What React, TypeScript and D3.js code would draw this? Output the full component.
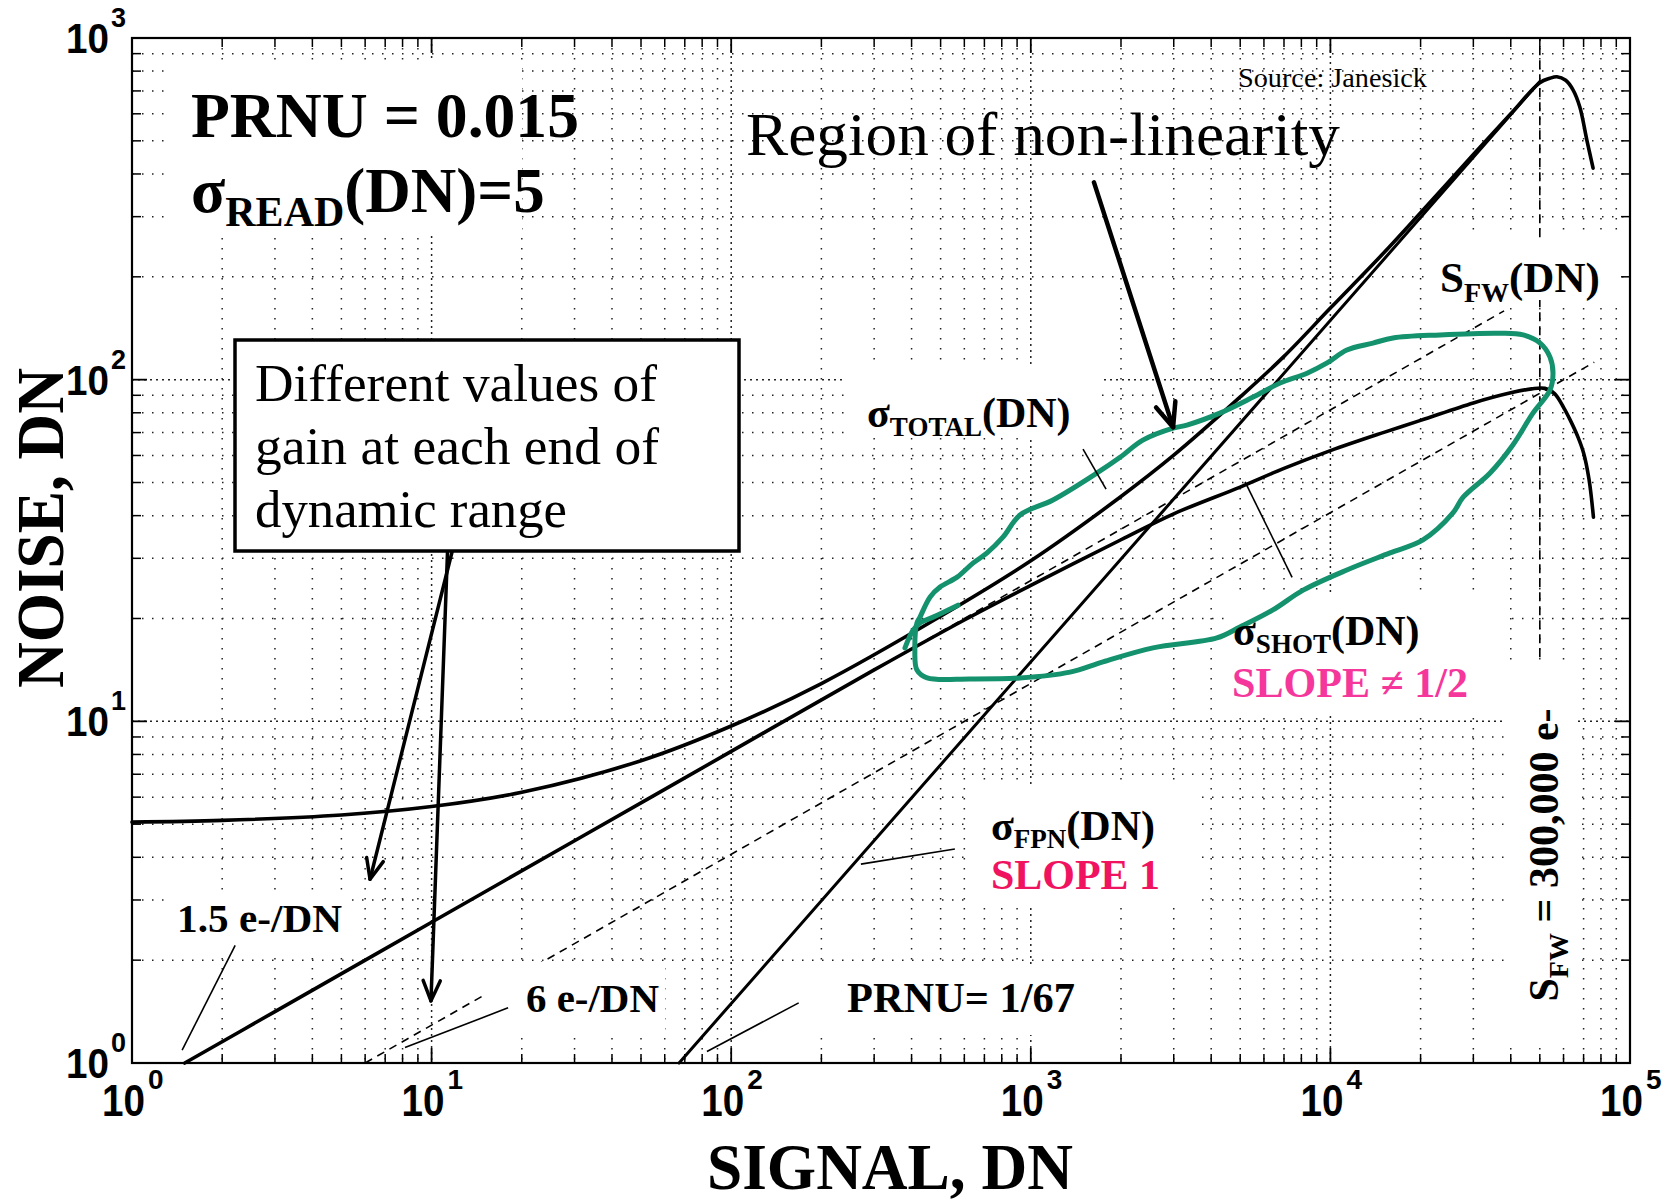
import React from "react";
import * as d3 from "d3";

// ---------- data ----------
const xTickExponents = [0, 1, 2, 3, 4, 5];
const yTickExponents = [0, 1, 2, 3];
const minorSteps = [2, 3, 4, 5, 6, 7, 8, 9];

const totalSignal = [1, 2, 5, 10, 20, 50, 100, 200, 500, 1000, 2000, 3000, 5000, 7000, 10000, 15000, 20000, 30000, 40000, 50000, 54000, 57000, 61000, 64600, 68000, 71800, 75300];
const totalNoise = [5.07, 5.13, 5.32, 5.63, 6.2, 7.67, 9.69, 12.9, 20.3, 29.5, 45.5, 60.1, 89, 117, 162, 234, 308, 456, 600, 740, 762, 770, 752, 704, 628, 502, 416];

const shotSignal = [1.5, 3, 10, 30, 100, 300, 600, 1000, 2000, 3000, 5000, 7000, 10000, 15000, 20000, 30000, 40000, 47000, 52000, 56000, 60000, 63000, 67000, 70000, 73000, 75500];
const shotNoise = [1.0, 1.414, 2.582, 4.472, 8.165, 14.14, 19.8, 25.0, 34.0, 40.5, 48.5, 55.0, 62.0, 70.0, 76.0, 85.5, 91.5, 94.0, 94.3, 91.0, 83.0, 76.5, 68.0, 61.0, 51.0, 39.6];

const fpnSignal = [67, 50000];
const fpnNoise = [1, 746];

const gain15Signal = [3.5, 38000];
const gain15Noise = [1.53, 159];

const gain6Signal = [6, 76000];
const gain6Noise = [1, 112.5];

const fullWellSignal = [50000, 50000];
const fullWellNoise = [15.4, 1000];

// hand-drawn green outline (log10 signal, log10 noise)
const loopLogSignal = [2.62, 2.613, 2.62, 2.654, 2.797, 2.964, 3.131, 3.241, 3.408, 3.621, 3.698, 3.808, 3.909, 4.055, 4.199, 4.309, 4.409, 4.443, 4.533, 4.609, 4.676, 4.733, 4.743, 4.733, 4.7, 4.643, 4.566, 4.366, 4.209, 4.142, 4.055, 3.989, 3.922, 3.832, 3.742, 3.631, 3.521, 3.475, 3.374, 3.298, 3.221, 3.074, 2.964, 2.907, 2.854, 2.807, 2.754, 2.697, 2.664, 2.63];
const loopLogNoise = [1.288, 1.209, 1.15, 1.127, 1.124, 1.127, 1.144, 1.174, 1.215, 1.244, 1.276, 1.326, 1.384, 1.443, 1.493, 1.531, 1.61, 1.656, 1.727, 1.809, 1.902, 1.97, 2.019, 2.066, 2.107, 2.131, 2.136, 2.131, 2.122, 2.107, 2.087, 2.049, 2.019, 1.99, 1.949, 1.902, 1.867, 1.858, 1.823, 1.773, 1.727, 1.648, 1.604, 1.539, 1.493, 1.463, 1.422, 1.393, 1.364, 1.305];
const tailLogSignal = [2.58, 2.607, 2.63, 2.674, 2.757];
const tailLogNoise = [1.215, 1.267, 1.288, 1.305, 1.34];

// leader lines: [signal1, noise1, signal2, noise2]
const leaderSegments = [
  [2.21, 2.21, 1.47, 1.09],
  [18.0, 1.45, 8.15, 1.11],
  [168, 1.5, 83, 1.08],
  [558, 4.23, 271, 3.82],
  [1494, 62.6, 1783, 47.8],
  [5190, 50.2, 7450, 26.4],
];
// arrows: [signalStart, noiseStart, signalTip, noiseTip]
const arrowSegments = [
  [1625, 378, 2985, 72.6],
  [11.7, 31.3, 6.23, 3.45],
  [11.3, 31.3, 9.95, 1.52],
];

const noteLines = ["Different values of", "gain at each end of", "dynamic range"];

// ---------- layout ----------
const W = 1666;
const H = 1203;
const X0 = 132, X1 = 1630, Y0 = 38, Y1 = 1063;
const SERIF = "'Liberation Serif', 'Times New Roman', serif";
const SANS = "'Liberation Sans', Arial, sans-serif";

const labelBoxes = [
  [172, 62, 350, 170],
  [845, 365, 255, 72],
  [1425, 238, 195, 62],
  [1225, 593, 280, 120],
  [1505, 660, 72, 385],
  [972, 785, 222, 120],
  [780, 968, 330, 67],
  [485, 962, 180, 68],
  [170, 897, 175, 58],
];
const noteWidths = [402, 404, 312];

export default function App() {
  const x = d3.scaleLog().domain([1, 1e5]).range([X0, X1]);
  const y = d3.scaleLog().domain([1, 1e3]).range([Y1, Y0]);

  const smooth = d3
    .line<[number, number]>()
    .x((d) => x(d[0]))
    .y((d) => y(d[1]))
    .curve(d3.curveCatmullRom.alpha(0.5));
  const straight = d3
    .line<[number, number]>()
    .x((d) => x(d[0]))
    .y((d) => y(d[1]));
  const loopLine = d3
    .line<[number, number]>()
    .x((d) => x(d[0]))
    .y((d) => y(d[1]))
    .curve(d3.curveCatmullRomClosed.alpha(0.5));

  const zip = (a: number[], b: number[]) => a.map((v, i) => [v, b[i]] as [number, number]);
  const zipLog = (a: number[], b: number[]) =>
    a.map((v, i) => [Math.pow(10, v), Math.pow(10, b[i])] as [number, number]);

  const xMajors = xTickExponents.map((e) => Math.pow(10, e));
  const yMajors = yTickExponents.map((e) => Math.pow(10, e));
  const xMinors: number[] = [];
  xTickExponents.slice(0, -1).forEach((e) => minorSteps.forEach((m) => xMinors.push(m * Math.pow(10, e))));
  const yMinors: number[] = [];
  yTickExponents.slice(0, -1).forEach((e) => minorSteps.forEach((m) => yMinors.push(m * Math.pow(10, e))));

  const innerXMajors = xMajors.slice(1, -1);
  const innerYMajors = yMajors.slice(1, -1);

  const gridColor = "#222";
  const arrowHead = (x1: number, y1: number, x2: number, y2: number, len = 24, ang = 0.42) => {
    const a = Math.atan2(y2 - y1, x2 - x1);
    return `M${x2 - len * Math.cos(a - ang)},${y2 - len * Math.sin(a - ang)} L${x2},${y2} L${x2 - len * Math.cos(a + ang)},${y2 - len * Math.sin(a + ang)}`;
  };

  return (
    <svg
      width={W}
      height={H}
      viewBox={`0 0 ${W} ${H}`}
      style={{ position: "absolute", left: 0, top: 0, background: "#fff" }}
    >
      <rect x={0} y={0} width={W} height={H} fill="#fff" />

      {/* grid */}
      <g stroke={gridColor} strokeWidth={1.5} fill="none">
        {xMinors.map((v) => (
          <line key={"gx" + v} x1={x(v)} x2={x(v)} y1={Y0} y2={Y1} strokeDasharray="1.5,8.5" />
        ))}
        {innerXMajors.map((v) => (
          <line key={"gX" + v} x1={x(v)} x2={x(v)} y1={Y0} y2={Y1} strokeDasharray="2,4" />
        ))}
        {yMinors.map((v) => (
          <line key={"gy" + v} y1={y(v)} y2={y(v)} x1={X0} x2={X1} strokeDasharray="1.5,8.5" />
        ))}
        {innerYMajors.map((v) => (
          <line key={"gY" + v} y1={y(v)} y2={y(v)} x1={X0} x2={X1} strokeDasharray="2,4" />
        ))}
      </g>

      {/* dashed reference lines */}
      <g stroke="#000" strokeWidth={1.6} fill="none" strokeDasharray="8,6">
        <path d={straight(zip(gain15Signal, gain15Noise)) || ""} />
        <path d={straight(zip(gain6Signal, gain6Noise)) || ""} />
        <path d={straight(zip(fullWellSignal, fullWellNoise)) || ""} strokeDasharray="9,5" />
      </g>

      {/* curves */}
      <g stroke="#000" fill="none" strokeLinejoin="round" strokeLinecap="round">
        <path d={straight(zip(fpnSignal, fpnNoise)) || ""} strokeWidth={3} />
        <path d={smooth(zip(shotSignal, shotNoise)) || ""} strokeWidth={3.6} />
        <path d={smooth(zip(totalSignal, totalNoise)) || ""} strokeWidth={3.6} />
      </g>

      {/* label backgrounds */}
      <g fill="#fff">
        {labelBoxes.map((b, i) => (
          <rect key={"lb" + i} x={b[0]} y={b[1]} width={b[2]} height={b[3]} />
        ))}
      </g>

      {/* axes box and ticks */}
      <g stroke="#000" fill="none">
        <rect x={X0} y={Y0} width={X1 - X0} height={Y1 - Y0} strokeWidth={2.2} />
        {innerXMajors.map((v) => (
          <g key={"tX" + v} strokeWidth={1.8}>
            <line x1={x(v)} x2={x(v)} y1={Y1} y2={Y1 - 15} />
            <line x1={x(v)} x2={x(v)} y1={Y0} y2={Y0 + 15} />
          </g>
        ))}
        {xMinors.map((v) => (
          <g key={"tx" + v} strokeWidth={1.5}>
            <line x1={x(v)} x2={x(v)} y1={Y1} y2={Y1 - 9} />
            <line x1={x(v)} x2={x(v)} y1={Y0} y2={Y0 + 9} />
          </g>
        ))}
        {innerYMajors.map((v) => (
          <g key={"tY" + v} strokeWidth={1.8}>
            <line y1={y(v)} y2={y(v)} x1={X0} x2={X0 + 15} />
            <line y1={y(v)} y2={y(v)} x1={X1} x2={X1 - 15} />
          </g>
        ))}
        {yMinors.map((v) => (
          <g key={"ty" + v} strokeWidth={1.5}>
            <line y1={y(v)} y2={y(v)} x1={X0} x2={X0 + 9} />
            <line y1={y(v)} y2={y(v)} x1={X1} x2={X1 - 9} />
          </g>
        ))}
      </g>

      {/* tick labels */}
      <g fontFamily={SANS} fontWeight="bold" fill="#000">
        {xTickExponents.map((e) => {
          const px = x(Math.pow(10, e));
          return (
            <text key={"xl" + e} x={px - 30} y={1116}>
              <tspan fontSize={44} textLength={43} lengthAdjust="spacingAndGlyphs">10</tspan>
              <tspan fontSize={28} dy={-27} dx={3}>{e}</tspan>
            </text>
          );
        })}
        {yTickExponents.map((e) => {
          const py = y(Math.pow(10, e));
          return (
            <text key={"yl" + e} x={66} y={py + 15}>
              <tspan fontSize={42} textLength={43} lengthAdjust="spacingAndGlyphs">10</tspan>
              <tspan fontSize={27} dy={-26} dx={2}>{e}</tspan>
            </text>
          );
        })}
      </g>

      {/* green outline */}
      <g fill="none" stroke="#14916d" strokeWidth={5} strokeLinecap="round" strokeLinejoin="round">
        <path d={loopLine(zipLog(loopLogSignal, loopLogNoise)) || ""} />
        <path d={smooth(zipLog(tailLogSignal, tailLogNoise)) || ""} />
      </g>

      {/* axis titles */}
      <text x={890} y={1189} fontFamily={SERIF} fontWeight="bold" fontSize={66} textAnchor="middle" textLength={366} lengthAdjust="spacingAndGlyphs">SIGNAL, DN</text>
      <text transform="translate(63,528) rotate(-90)" fontFamily={SERIF} fontWeight="bold" fontSize={68} textAnchor="middle" textLength={320} lengthAdjust="spacingAndGlyphs">NOISE, DN</text>

      {/* annotations */}
      <g fontFamily={SERIF} fill="#000">
        <text x={191} y={137} fontSize={64} fontWeight="bold" textLength={388} lengthAdjust="spacingAndGlyphs">PRNU = 0.015</text>
        <text x={191} y={212} fontSize={63} fontWeight="bold">
          <tspan>σ</tspan>
          <tspan fontSize={42} dy={14}>READ</tspan>
          <tspan dy={-14}>(DN)=5</tspan>
        </text>
        <text x={746} y={155} fontSize={61} textLength={594} lengthAdjust="spacingAndGlyphs">Region of non-linearity</text>
        <text x={1238} y={87} fontSize={27} textLength={189} lengthAdjust="spacingAndGlyphs">Source: Janesick</text>

        <text x={867} y={427} fontSize={42} fontWeight="bold">
          <tspan>σ</tspan>
          <tspan fontSize={27} dy={9}>TOTAL</tspan>
          <tspan dy={-9}>(DN)</tspan>
        </text>
        <text x={1233} y={645} fontSize={42} fontWeight="bold">
          <tspan>σ</tspan>
          <tspan fontSize={27} dy={8}>SHOT</tspan>
          <tspan dy={-8}>(DN)</tspan>
        </text>
        <text x={1232} y={697} fontSize={42} fontWeight="bold" fill="#f5379c" textLength={236} lengthAdjust="spacingAndGlyphs">SLOPE ≠ 1/2</text>
        <text x={1440} y={292} fontSize={43} fontWeight="bold">
          <tspan>S</tspan>
          <tspan fontSize={28} dy={10}>FW</tspan>
          <tspan dy={-10}>(DN)</tspan>
        </text>
        <text x={991} y={840} fontSize={42} fontWeight="bold">
          <tspan>σ</tspan>
          <tspan fontSize={27} dy={8}>FPN</tspan>
          <tspan dy={-8}>(DN)</tspan>
        </text>
        <text x={991} y={889} fontSize={42} fontWeight="bold" fill="#f0135f" textLength={169} lengthAdjust="spacingAndGlyphs">SLOPE 1</text>
        <text x={847} y={1012} fontSize={42} fontWeight="bold" textLength={228} lengthAdjust="spacingAndGlyphs">PRNU= 1/67</text>
        <text x={526} y={1012} fontSize={41} fontWeight="bold" textLength={133} lengthAdjust="spacingAndGlyphs">6 e-/DN</text>
        <text x={177} y={932} fontSize={41} fontWeight="bold" textLength={165} lengthAdjust="spacingAndGlyphs">1.5 e-/DN</text>
        <text transform="translate(1558,855) rotate(-90)" fontSize={42} fontWeight="bold" textAnchor="middle">
          <tspan>S</tspan>
          <tspan fontSize={28} dy={10}>FW</tspan>
          <tspan dy={-10}> = 300,000 e-</tspan>
        </text>
      </g>

      {/* leader lines */}
      <g stroke="#000" strokeWidth={1.6}>
        {leaderSegments.map((s, i) => (
          <line key={"ld" + i} x1={x(s[0])} y1={y(s[1])} x2={x(s[2])} y2={y(s[3])} />
        ))}
      </g>

      {/* arrows */}
      <g stroke="#000" fill="none" strokeLinecap="round" strokeLinejoin="round">
        {arrowSegments.map((s, i) => {
          const x1 = x(s[0]), y1 = y(s[1]), x2 = x(s[2]), y2 = y(s[3]);
          const w = i === 0 ? 4.5 : 3.5;
          return (
            <g key={"ar" + i} strokeWidth={w}>
              <line x1={x1} y1={y1} x2={x2} y2={y2} />
              <path d={arrowHead(x1, y1, x2, y2, i === 0 ? 26 : 22, 0.4)} />
            </g>
          );
        })}
      </g>

      {/* note box */}
      <rect x={235} y={340} width={504} height={211} fill="#fff" stroke="#000" strokeWidth={3.5} />
      <g fontFamily={SERIF} fontSize={52} fill="#000">
        {noteLines.map((t, i) => (
          <text key={"nl" + i} x={255} y={401 + i * 63} textLength={noteWidths[i]} lengthAdjust="spacingAndGlyphs">{t}</text>
        ))}
      </g>
    </svg>
  );
}
